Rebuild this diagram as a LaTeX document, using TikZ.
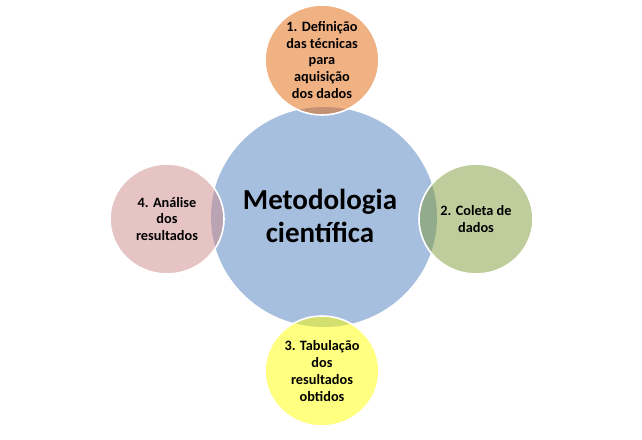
\documentclass[tikz,border=0pt]{standalone}
\usepackage{fontspec}
\setmainfont{Carlito}
\usetikzlibrary{shapes.geometric}
\definecolor{bigblue}{RGB}{167,191,222}
\definecolor{corange}{RGB}{227,101,7}
\definecolor{cgreen}{RGB}{127,153,55}
\definecolor{cpink}{RGB}{205,137,137}
\definecolor{cyellow}{RGB}{255,255,1}
\tikzset{
  bigcirc/.style={ellipse, fill=bigblue, minimum width=226pt, minimum height=220pt, inner sep=0pt},
  bigtext/.style={align=center, font=\fontsize{29}{33}\selectfont\bfseries},
  smallcirc/.style={ellipse, fill=#1, fill opacity=0.5, text opacity=1, draw=white, draw opacity=1,
    line width=1.6pt, minimum width=114pt, minimum height=110pt, inner sep=0pt,
    align=center, font=\fontsize{14.3}{16.7}\selectfont\bfseries}
}
\begin{document}
\begin{tikzpicture}[x=1pt,y=-1pt]
\useasboundingbox (0,0) rectangle (642,439);
\node[bigcirc] (big) at (324,217) {};
\node[bigtext] (bigt) at (320,216) {Metodologia\\científica};
\node[smallcirc=corange] (c1) at (322,60) {1. Definição\\das técnicas\\para\\aquisição\\dos dados};
\node[smallcirc=cgreen] (c2) at (476,219) {2. Coleta de\\dados};
\node[smallcirc=cyellow] (c3) at (322,371) {3. Tabulação\\dos\\resultados\\obtidos};
\node[smallcirc=cpink] (c4) at (167,219) {4. Análise\\dos\\resultados};
\end{tikzpicture}
\end{document}
